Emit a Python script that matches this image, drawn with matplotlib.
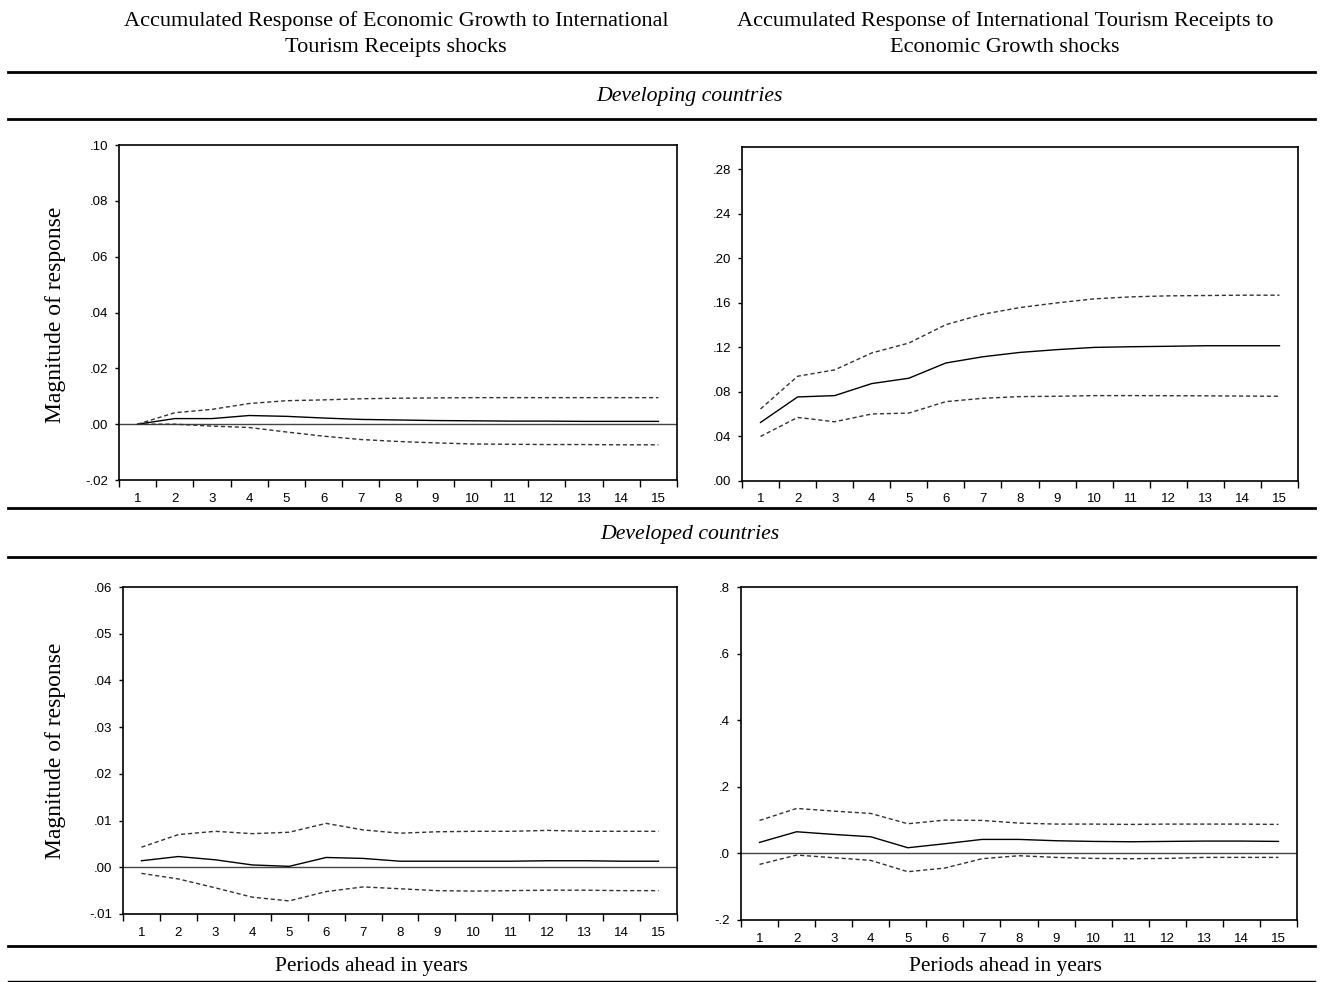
import matplotlib
matplotlib.use("Agg")
import matplotlib.pyplot as plt
import numpy as np
from matplotlib.lines import Line2D
from matplotlib.ticker import FuncFormatter, FixedLocator

# periods ahead
periods = list(range(1, 16))

# developing countries: response of economic growth to tourism receipts shocks
dev_eg = [0.0000, 0.0020, 0.0020, 0.0031, 0.0028, 0.0022, 0.0017, 0.0015, 0.0013,
          0.0012, 0.0011, 0.0011, 0.0010, 0.0010, 0.0010]
dev_eg_hi = [0.0000, 0.0041, 0.0053, 0.0074, 0.0084, 0.0087, 0.0091, 0.0093, 0.0094,
             0.0095, 0.0095, 0.0095, 0.0095, 0.0095, 0.0095]
dev_eg_lo = [0.0000, 0.0000, -0.0007, -0.0012, -0.0028, -0.0043, -0.0055, -0.0062, -0.0067,
             -0.0071, -0.0072, -0.0073, -0.0073, -0.0074, -0.0074]

# developing countries: response of tourism receipts to economic growth shocks
dev_tr = [0.0526, 0.0755, 0.0767, 0.0875, 0.0923, 0.1060, 0.1116, 0.1155, 0.1180,
          0.1200, 0.1206, 0.1210, 0.1215, 0.1215, 0.1215]
dev_tr_hi = [0.0647, 0.0941, 0.0998, 0.1150, 0.1239, 0.1404, 0.1498, 0.1558, 0.1600,
             0.1636, 0.1654, 0.1663, 0.1666, 0.1669, 0.1669]
dev_tr_lo = [0.0400, 0.0571, 0.0532, 0.0602, 0.0610, 0.0713, 0.0743, 0.0758, 0.0761,
             0.0767, 0.0767, 0.0766, 0.0765, 0.0763, 0.0761]

# developed countries: response of economic growth to tourism receipts shocks
dvd_eg = [0.0014, 0.0023, 0.0016, 0.0005, 0.0002, 0.0021, 0.0019, 0.0013, 0.0013,
          0.0013, 0.0013, 0.0014, 0.0014, 0.0013, 0.0013]
dvd_eg_hi = [0.0043, 0.0070, 0.0077, 0.0072, 0.0075, 0.0094, 0.0080, 0.0073, 0.0076,
             0.0077, 0.0077, 0.0079, 0.0077, 0.0077, 0.0077]
dvd_eg_lo = [-0.0013, -0.0025, -0.0044, -0.0064, -0.0072, -0.0052, -0.0042, -0.0046, -0.0050,
             -0.0051, -0.0050, -0.0049, -0.0049, -0.0050, -0.0050]

# developed countries: response of tourism receipts to economic growth shocks
dvd_tr = [0.033, 0.065, 0.057, 0.050, 0.017, 0.029, 0.042, 0.042, 0.038,
          0.036, 0.035, 0.036, 0.037, 0.037, 0.036]
dvd_tr_hi = [0.099, 0.135, 0.127, 0.120, 0.089, 0.100, 0.099, 0.091, 0.088,
             0.088, 0.087, 0.088, 0.088, 0.088, 0.087]
dvd_tr_lo = [-0.033, -0.005, -0.013, -0.021, -0.055, -0.044, -0.016, -0.007, -0.012,
             -0.015, -0.016, -0.015, -0.012, -0.012, -0.012]

W, H = 1323, 982
fig = plt.figure(figsize=(W / 100, H / 100), dpi=100)

serif = ["Liberation Serif", "DejaVu Serif"]
sans = ["Liberation Sans", "DejaVu Sans"]


def px_axes(left, top, right, bottom):
    return fig.add_axes([left / W, 1 - bottom / H, (right - left) / W, (bottom - top) / H])


def fmt(dec):
    def f(v, pos):
        s = f"{v:.{dec}f}"
        if s.startswith("-0."):
            s = "-" + s[2:]
        elif s.startswith("0."):
            s = s[1:]
        return s
    return FuncFormatter(f)


def panel(ax, mid, hi, lo, ylim, yticks, dec, zero=True):
    if zero:
        ax.axhline(0, color="#444444", lw=1.0, zorder=1)
    ax.plot(periods, mid, color="black", lw=1.0, zorder=3)
    ax.plot(periods, hi, color="#333333", lw=1.0, ls=(0, (3, 2)), zorder=3)
    ax.plot(periods, lo, color="#333333", lw=1.0, ls=(0, (3, 2)), zorder=3)
    ax.set_xlim(0.5, 15.5)
    ax.set_ylim(*ylim)
    ax.set_yticks(yticks)
    ax.yaxis.set_major_formatter(fmt(dec))
    # boundary ticks (no labels) and centred labels
    ax.xaxis.set_major_locator(FixedLocator(np.arange(0.5, 16, 1)))
    ax.xaxis.set_minor_locator(FixedLocator(periods))
    ax.xaxis.set_major_formatter(FuncFormatter(lambda v, p: ""))
    ax.xaxis.set_minor_formatter(FuncFormatter(lambda v, p: str(int(round(v)))))
    ax.tick_params(axis="x", which="major", direction="out", length=5, width=1)
    ax.tick_params(axis="x", which="minor", length=0, pad=9, labelsize=9.5)
    ax.tick_params(axis="y", direction="out", length=3, width=1, labelsize=9.5, pad=5)
    for lab in ax.get_xticklabels(minor=True) + ax.get_yticklabels():
        lab.set_family(sans)
    for sp in ax.spines.values():
        sp.set_linewidth(1.2)


ax1 = px_axes(119, 145, 677, 480)
panel(ax1, dev_eg, dev_eg_hi, dev_eg_lo, (-0.02, 0.10), np.arange(-0.02, 0.101, 0.02), 2)

ax2 = px_axes(742, 147, 1298, 481)
panel(ax2, dev_tr, dev_tr_hi, dev_tr_lo, (0.0, 0.30), np.arange(0.0, 0.281, 0.04), 2, zero=False)

ax3 = px_axes(123, 587, 677, 914)
panel(ax3, dvd_eg, dvd_eg_hi, dvd_eg_lo, (-0.01, 0.06), np.arange(-0.01, 0.061, 0.01), 2)

ax4 = px_axes(741, 587, 1297, 920)
panel(ax4, dvd_tr, dvd_tr_hi, dvd_tr_lo, (-0.2, 0.8), np.arange(-0.2, 0.81, 0.2), 1)

# horizontal rules
for y, lw in [(72, 2.0), (119, 2.0), (508, 2.0), (557, 2.0), (946, 2.0), (981, 1.0)]:
    fig.add_artist(Line2D([8 / W, 1315 / W], [1 - y / H, 1 - y / H], color="black",
                          lw=lw, transform=fig.transFigure))

fig.text(396 / W, 1 - 34 / H,
         "Accumulated Response of Economic Growth to International\nTourism Receipts shocks",
         ha="center", va="center", family=serif, fontsize=16, linespacing=1.45)
fig.text(1005 / W, 1 - 34 / H,
         "Accumulated Response of International Tourism Receipts to\nEconomic Growth shocks",
         ha="center", va="center", family=serif, fontsize=16, linespacing=1.45)
fig.text(690 / W, 1 - 97 / H, "Developing countries", ha="center", va="center",
         family=serif, style="italic", fontsize=15.7)
fig.text(690 / W, 1 - 534 / H, "Developed countries", ha="center", va="center",
         family=serif, style="italic", fontsize=15.7)
fig.text(371 / W, 1 - 966 / H, "Periods ahead in years", ha="center", va="center",
         family=serif, fontsize=15.5)
fig.text(1005 / W, 1 - 966 / H, "Periods ahead in years", ha="center", va="center",
         family=serif, fontsize=15.5)
fig.text(55 / W, 1 - 315 / H, "Magnitude of response", ha="center", va="center",
         rotation=90, family=serif, fontsize=17)
fig.text(55 / W, 1 - 751 / H, "Magnitude of response", ha="center", va="center",
         rotation=90, family=serif, fontsize=17)

fig.savefig("out.png", dpi=100)
